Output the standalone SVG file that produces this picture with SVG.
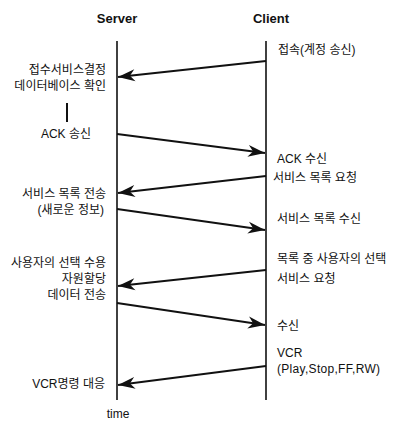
<svg xmlns="http://www.w3.org/2000/svg" width="393" height="421" viewBox="0 0 393 421">
<style>
text{font-family:"Liberation Sans","Noto Sans CJK KR",sans-serif;font-size:12px;fill:#111}
.title{font-size:13px;font-weight:bold;text-anchor:middle}
.r{text-anchor:end}
.m{text-anchor:middle}
.lat{letter-spacing:0.3px}
.life{stroke:#111;stroke-width:1.6;fill:none}
.msg{stroke:#111;stroke-width:2;fill:none;marker-end:url(#ah)}
</style>
<defs>
<marker id="ah" markerUnits="userSpaceOnUse" markerWidth="20" markerHeight="14" refX="0" refY="0" viewBox="-18 -7 20 14" orient="auto" overflow="visible">
<path d="M0,0 L-17,-6 L-12,0 L-17,6 Z" fill="#111"/>
</marker>
</defs>
<rect width="393" height="421" fill="#fff"/>
<g id="server">
<text class="title" x="117" y="23">Server</text>
<line class="life" x1="117" y1="41" x2="117" y2="400"/>
<text class="m" x="118" y="418">time</text>
</g>
<g id="client">
<text class="title" x="271" y="23">Client</text>
<line class="life" x1="266" y1="41" x2="266" y2="400"/>
</g>
<g id="server-labels">
<text class="r" x="106" y="74">접수서비스결정</text>
<text class="r" x="106" y="90">데이터베이스 확인</text>
<line x1="67" y1="103" x2="67" y2="122" stroke="#111" stroke-width="2"/>
<text class="m" x="66" y="138">ACK 송신</text>
<text class="r" x="106" y="198">서비스 목록 전송</text>
<text class="r" x="104" y="214">(새로운 정보)</text>
<text class="r" x="106" y="267">사용자의 선택 수용</text>
<text class="r" x="106" y="283">자원할당</text>
<text class="r" x="106" y="299">데이터 전송</text>
<text class="r" x="105" y="388">VCR명령 대응</text>
</g>
<g id="client-labels">
<text x="278" y="54">접속(계정 송신)</text>
<text x="277" y="163">ACK 수신</text>
<text x="273" y="182">서비스 목록 요청</text>
<text x="277" y="223">서비스 목록 수신</text>
<text x="277" y="263">목록 중 사용자의 선택</text>
<text x="277" y="283">서비스 요청</text>
<text x="277" y="330">수신</text>
<text x="277" y="357">VCR</text>
<text class="lat" x="277" y="373">(Play,Stop,FF,RW)</text>
</g>
<g id="connectors">
<line class="msg" x1="266" y1="61" x2="118" y2="77"/>
<line class="msg" x1="117" y1="134" x2="265" y2="153"/>
<line class="msg" x1="266" y1="176" x2="118" y2="193"/>
<line class="msg" x1="117" y1="209" x2="265" y2="230"/>
<line class="msg" x1="266" y1="270" x2="118" y2="286"/>
<line class="msg" x1="117" y1="303" x2="265" y2="325"/>
<line class="msg" x1="266" y1="366" x2="118" y2="385"/>
</g>
</svg>
